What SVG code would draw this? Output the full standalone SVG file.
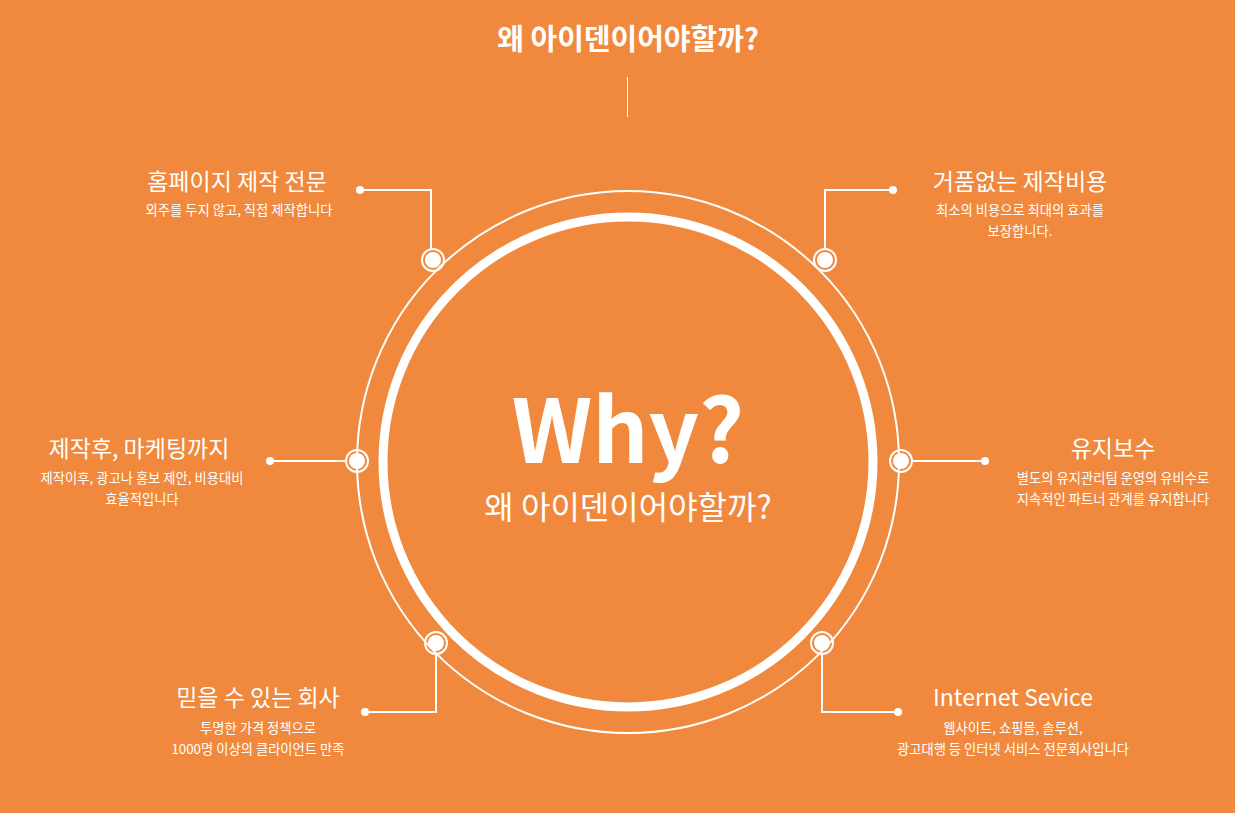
<svg xmlns="http://www.w3.org/2000/svg" width="1235" height="813" viewBox="0 0 1235 813">
<style>
text{font-family:"Noto Sans CJK KR","Noto Sans",sans-serif;fill:#fff}
.h{font-size:23px}.s{font-size:13.3px}
.ln{fill:none;stroke:#fff;stroke-width:2}
</style>
<defs>
<g id="dot"><circle r="11" fill="none" stroke="#fff" stroke-width="2"/><circle r="8" fill="#fff"/></g>
</defs>
<rect width="1235" height="813" fill="#f0893d"/>
<text x="628" y="50" font-size="29" font-weight="700" text-anchor="middle">왜 아이덴이어야할까?</text>
<line x1="627.5" y1="77" x2="627.5" y2="117" stroke="#fff" stroke-width="1"/>
<g id="circle">
<circle cx="628" cy="462" r="271" fill="none" stroke="#fff" stroke-width="2"/>
<circle cx="628" cy="462" r="245" fill="none" stroke="#fff" stroke-width="9"/>
<text x="628" y="463" font-size="88" font-weight="700" text-anchor="middle">Why?</text>
<text x="628" y="519" font-size="32" text-anchor="middle">왜 아이덴이어야할까?</text>
</g>
<g id="connectors">
<polyline class="ln" points="360,190 431,190 431,250"/><circle cx="360" cy="190" r="4" fill="#fff"/>
<polyline class="ln" points="893,190 825,190 825,250"/><circle cx="893" cy="190" r="4" fill="#fff"/>
<line class="ln" x1="270" y1="461" x2="346" y2="461"/><circle cx="270" cy="461" r="4" fill="#fff"/>
<line class="ln" x1="912" y1="461" x2="985" y2="461"/><circle cx="985" cy="461" r="4" fill="#fff"/>
<polyline class="ln" points="436,654 436,712 365,712"/><circle cx="365" cy="712" r="4" fill="#fff"/>
<polyline class="ln" points="822,654 822,712 898,712"/><circle cx="898" cy="712" r="4" fill="#fff"/>
</g>
<g id="n1"><use href="#dot" x="433" y="260"/><text class="h" x="237" y="190" text-anchor="middle">홈페이지 제작 전문</text><text class="s" x="239" y="215" text-anchor="middle">외주를 두지 않고, 직접 제작합니다</text></g>
<g id="n2"><use href="#dot" x="825" y="260"/><text class="h" x="1020" y="190" text-anchor="middle">거품없는 제작비용</text><text class="s" x="1020" y="215" text-anchor="middle">최소의 비용으로 최대의 효과를</text><text class="s" x="1020" y="236" text-anchor="middle">보장합니다.</text></g>
<g id="n3"><use href="#dot" x="357" y="461"/><text class="h" x="139" y="457" text-anchor="middle">제작후, 마케팅까지</text><text class="s" x="142" y="483" text-anchor="middle">제작이후, 광고나 홍보 제안, 비용대비</text><text class="s" x="142" y="504" text-anchor="middle">효율적입니다</text></g>
<g id="n4"><use href="#dot" x="901" y="461"/><text class="h" x="1113" y="457" text-anchor="middle">유지보수</text><text class="s" x="1113" y="483" text-anchor="middle">별도의 유지관리팀 운영의 유비수로</text><text class="s" x="1113" y="504" text-anchor="middle">지속적인 파트너 관계를 유지합니다</text></g>
<g id="n5"><use href="#dot" x="436" y="643"/><text class="h" x="258" y="706" text-anchor="middle">믿을 수 있는 회사</text><text class="s" x="258" y="733" text-anchor="middle">투명한 가격 정책으로</text><text class="s" x="258" y="754" text-anchor="middle">1000명 이상의 클라이언트 만족</text></g>
<g id="n6"><use href="#dot" x="822" y="643"/><text class="h" x="1013" y="706" text-anchor="middle">Internet Sevice</text><text class="s" x="1013" y="733" text-anchor="middle">웹사이트, 쇼핑몰, 솔루션,</text><text class="s" x="1013" y="754" text-anchor="middle">광고대행 등 인터넷 서비스 전문회사입니다</text></g>
</svg>
